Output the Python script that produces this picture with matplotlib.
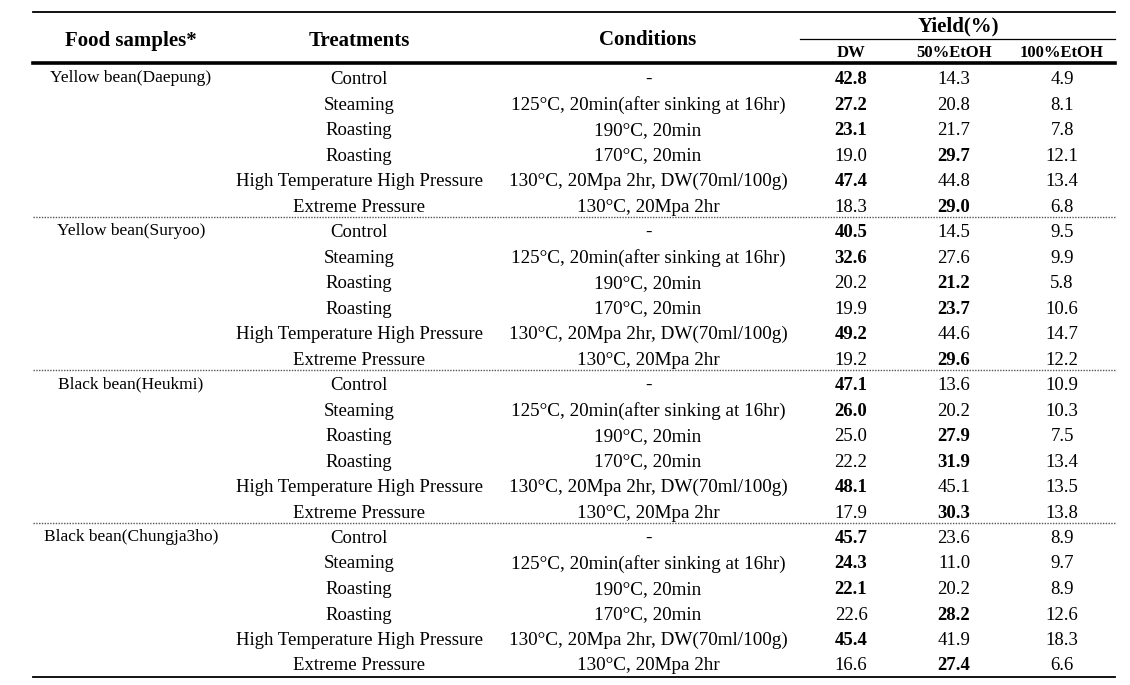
#!/usr/bin/env python3
# -*- coding: utf-8 -*-

"""
Extraction yield table of soybean samples by treatment
"""

import matplotlib.pyplot as plt

# Table content
samples = ["Yellow bean(Daepung)", "Yellow bean(Suryoo)",
           "Black bean(Heukmi)", "Black bean(Chungja3ho)"]
treatments = ["Control", "Steaming", "Roasting", "Roasting",
              "High Temperature High Pressure", "Extreme Pressure"]
conditions = ["-", "125°C, 20min(after sinking at 16hr)", "190°C, 20min",
              "170°C, 20min", "130°C, 20Mpa 2hr, DW(70ml/100g)",
              "130°C, 20Mpa 2hr"]
solvents = ["DW", "50%EtOH", "100%EtOH"]

dw = [42.8, 27.2, 23.1, 19.0, 47.4, 18.3,
      40.5, 32.6, 20.2, 19.9, 49.2, 19.2,
      47.1, 26.0, 25.0, 22.2, 48.1, 17.9,
      45.7, 24.3, 22.1, 22.6, 45.4, 16.6]
etoh50 = [14.3, 20.8, 21.7, 29.7, 44.8, 29.0,
          14.5, 27.6, 21.2, 23.7, 44.6, 29.6,
          13.6, 20.2, 27.9, 31.9, 45.1, 30.3,
          23.6, 11.0, 20.2, 28.2, 41.9, 27.4]
etoh100 = [4.9, 8.1, 7.8, 12.1, 13.4, 6.8,
           9.5, 9.9, 5.8, 10.6, 14.7, 12.2,
           10.9, 10.3, 7.5, 13.4, 13.5, 13.8,
           8.9, 9.7, 8.9, 12.6, 18.3, 6.6]


def main():
    W, H = 1130, 685
    fig = plt.figure(figsize=(W / 100, H / 100), dpi=100)
    ax = fig.add_axes([0, 0, 1, 1])
    ax.set_xlim(0, W)
    ax.set_ylim(H, 0)
    ax.axis('off')

    font = 'Liberation Serif'

    # Layout (pixels)
    left, right = 33, 1115
    col_sample, col_treat, col_cond = 131, 359, 648
    col_vals = [851, 954, 1062]
    y_top, y_yield, y_head = 12, 39, 63
    row0, row_h = 77, 25.5
    n_per = len(treatments)

    # Rules
    ax.plot([left, right], [y_top, y_top], color='black', lw=1.3)
    ax.plot([800, right], [y_yield, y_yield], color='black', lw=0.9)
    ax.plot([left, right], [y_head, y_head], color='black', lw=2.6)

    # Header
    hkw = dict(family=font, fontsize=15, fontweight='bold',
               ha='center', va='baseline')
    ax.text(col_sample, 46, "Food samples*", **hkw)
    ax.text(col_treat, 46, "Treatments", **hkw)
    ax.text(col_cond, 45, "Conditions", **hkw)
    ax.text(958, 31, "Yield(%)", **hkw)
    for x, s in zip(col_vals, solvents):
        ax.text(x, 57, s, family=font, fontsize=12, fontweight='bold',
                ha='center', va='baseline')

    # Body
    for g, sample in enumerate(samples):
        y_g = row0 + g * n_per * row_h
        ax.text(col_sample, y_g + 5, sample, family=font, fontsize=12.5,
                ha='center', va='baseline')
        for j in range(n_per):
            i = g * n_per + j
            base = row0 + i * row_h + 7
            ax.text(col_treat, base, treatments[j], family=font,
                    fontsize=13.5, ha='center', va='baseline')
            ax.text(col_cond, base, conditions[j], family=font,
                    fontsize=13.8, ha='center', va='baseline')
            vals = [dw[i], etoh50[i], etoh100[i]]
            top = max(vals)
            for x, v in zip(col_vals, vals):
                ax.text(x, base, f"{v:.1f}", family=font, fontsize=13.5,
                        fontweight='bold' if v == top else 'normal',
                        ha='center', va='baseline')
        y_sep = y_g + (n_per - 0.5) * row_h
        if g < len(samples) - 1:
            ax.plot([left, right], [y_sep, y_sep], color='#555555',
                    lw=1.0, ls=(0, (1, 1)))
        else:
            ax.plot([left, right], [y_sep + 1, y_sep + 1], color='black',
                    lw=1.3)

    fig.savefig("out.png", dpi=100)
    plt.close('all')


if __name__ == '__main__':
    main()
